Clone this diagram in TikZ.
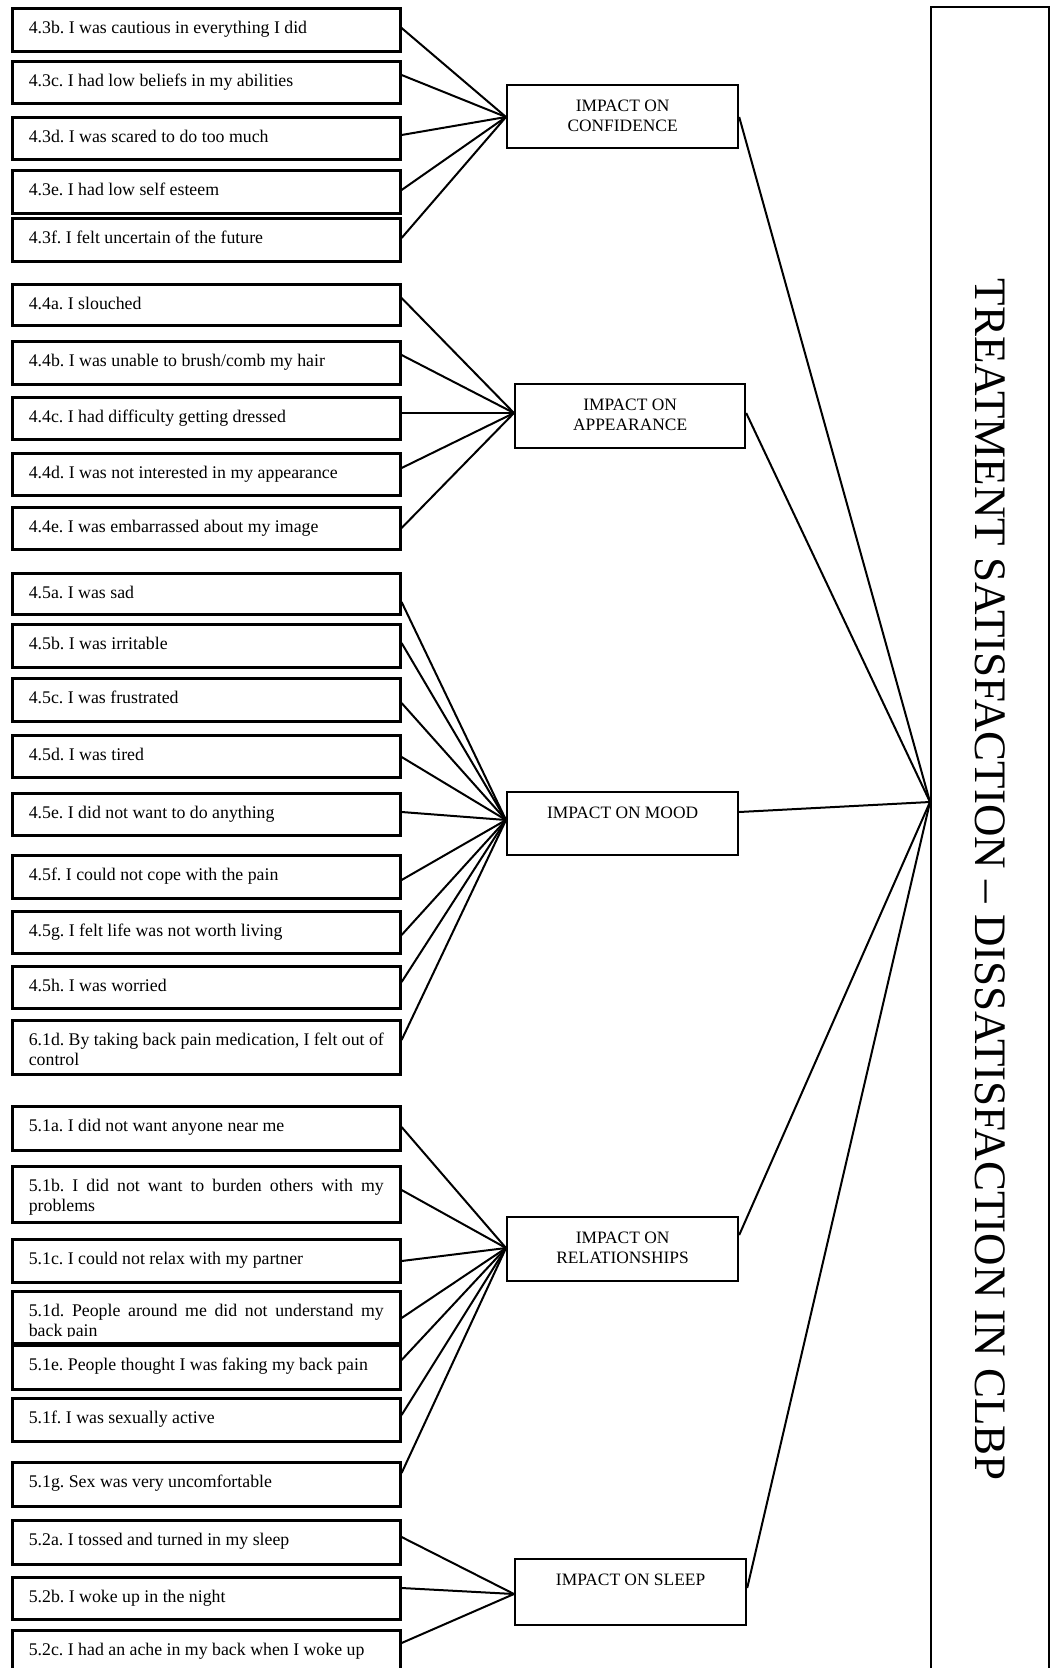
\documentclass[tikz,border=0pt]{standalone}
\usepackage{fontspec}
\setmainfont{Liberation Serif}
\hbadness=10000
\frenchspacing
\begin{document}
\begin{tikzpicture}[x=1pt,y=-1pt,
  itembox/.style={draw, line width=2.6pt, inner xsep=16.5pt, inner ysep=0pt,
    anchor=north west, fill=white, font=\fontsize{17.8pt}{20.5pt}\selectfont},
  hubbox/.style={draw, line width=2.2pt, inner sep=0pt, anchor=north west,
    font=\fontsize{17.4pt}{20pt}\selectfont},
  link/.style={line width=2pt}]
\useasboundingbox (0,0) rectangle (1050,1668);
\clip (0,0) rectangle (1050,1668);

% item box: name, top, height, text (first baseline 25pt below the top)
\newcommand\qitem[4]{\node[itembox] (#1) at (11,#2)
  {\parbox[c][#3pt][t]{355pt}{\rule{0pt}{25pt}#4}};}
% factor box: name, left, top, width, height, text
\newcommand\qhub[6]{\node[hubbox] (#1) at (#2,#3)
  {\parbox[c][#5pt][t]{#4pt}{\centering\rule{0pt}{26pt}#6}};}

% --- questionnaire items ---
\qitem{i43b}{7}{43}{4.3b. I was cautious in everything I did}
\qitem{i43c}{60}{42}{4.3c. I had low beliefs in my abilities}
\qitem{i43d}{116}{42}{4.3d. I was scared to do too much}
\qitem{i43e}{169}{43}{4.3e. I had low self esteem}
\qitem{i43f}{217}{43}{4.3f. I felt uncertain of the future}

\qitem{i44a}{283}{41}{4.4a. I slouched}
\qitem{i44b}{340}{43}{4.4b. I was unable to brush/comb my hair}
\qitem{i44c}{396}{42}{4.4c. I had difficulty getting dressed}
\qitem{i44d}{452}{42}{4.4d. I was not interested in my appearance}
\qitem{i44e}{506}{42}{4.4e. I was embarrassed about my image}

\qitem{i45a}{572}{41}{4.5a. I was sad}
\qitem{i45b}{623}{43}{4.5b. I was irritable}
\qitem{i45c}{677}{43}{4.5c. I was frustrated}
\qitem{i45d}{734}{42}{4.5d. I was tired}
\qitem{i45e}{792}{42}{4.5e. I did not want to do anything}
\qitem{i45f}{854}{43}{4.5f. I could not cope with the pain}
\qitem{i45g}{910}{42}{4.5g. I felt life was not worth living}
\qitem{i45h}{965}{42}{4.5h. I was worried}
\qitem{i61d}{1019}{54}{6.1d. By taking back pain medication, I felt out of\linebreak control}

\qitem{i51a}{1105}{44}{5.1a. I did not want anyone near me}
\qitem{i51b}{1165}{56}{5.1b. I did not want to burden others with my\linebreak problems}
\qitem{i51c}{1238}{43}{5.1c. I could not relax with my partner}
\qitem{i51d}{1290}{52}{5.1d. People around me did not understand my\linebreak back pain}
% the next box sits over the foot of 5.1d and hides the descenders of its last line
\node[fill=white, inner sep=0pt, anchor=north west, minimum width=380pt,
  minimum height=8pt] (i51d-foot) at (14,1337) {};
\qitem{i51e}{1344}{44}{5.1e. People thought I was faking my back pain}
\draw[line width=4.6pt] (i51e.north west) -- (i51e.north east);
\qitem{i51f}{1397}{43}{5.1f. I was sexually active}
\qitem{i51g}{1461}{44}{5.1g. Sex was very uncomfortable}

\qitem{i52a}{1519}{44}{5.2a. I tossed and turned in my sleep}
\qitem{i52b}{1576}{42}{5.2b. I woke up in the night}
\qitem{i52c}{1629}{43}{5.2c. I had an ache in my back when I woke up}

% --- factors ---
\qhub{conf}{506}{84}{231}{63}{IMPACT ON\\CONFIDENCE}
\qhub{app}{514}{383}{230}{64}{IMPACT ON\\APPEARANCE}
\qhub{mood}{506}{791}{231}{63}{IMPACT ON MOOD}
\qhub{rel}{506}{1216}{231}{64}{IMPACT ON\\RELATIONSHIPS}
\qhub{sleep}{514}{1558}{231}{66}{IMPACT ON SLEEP}

% --- overall construct ---
\node[draw, line width=2.2pt, inner sep=0pt, anchor=north west,
  minimum width=118pt, minimum height=1720pt] (big) at (930,6) {};
\node[rotate=-90, font=\fontsize{45pt}{50pt}\selectfont] (title) at (990,880)
  {TREATMENT SATISFACTION – DISSATISFACTION IN CLBP};

% --- connectors ---
\coordinate (conf-in) at (conf.west |- 0,117);
\coordinate (app-in) at (app.west |- 0,413);
\coordinate (mood-in) at (mood.west |- 0,820);
\coordinate (rel-in) at (rel.west |- 0,1248);
\coordinate (sleep-in) at (sleep.west |- 0,1594);
\coordinate (conv) at (big.west |- 0,802);

\foreach \n/\y in {i43b/28, i43c/75, i43d/135, i43e/190, i43f/238}
  \draw[link] (\n.east |- 0,\y) -- (conf-in);
\foreach \n/\y in {i44a/298, i44b/355, i44c/413, i44d/468, i44e/528}
  \draw[link] (\n.east |- 0,\y) -- (app-in);
\foreach \n/\y in {i45a/602, i45b/643, i45c/703, i45d/757, i45e/812,
                   i45f/880, i45g/935, i45h/982, i61d/1040}
  \draw[link] (\n.east |- 0,\y) -- (mood-in);
\foreach \n/\y in {i51a/1127, i51b/1190, i51c/1261, i51d/1318, i51e/1360,
                   i51f/1415, i51g/1473}
  \draw[link] (\n.east |- 0,\y) -- (rel-in);
\foreach \n/\y in {i52a/1537, i52b/1588, i52c/1643}
  \draw[link] (\n.east |- 0,\y) -- (sleep-in);

\draw[link] (conf.east |- 0,117) -- (conv);
\draw[link] (app.east |- 0,413) -- (conv);
\draw[link] (mood.east |- 0,812) -- (conv);
\draw[link] (rel.east |- 0,1235) -- (conv);
\draw[link] (sleep.east |- 0,1588) -- (conv);
\end{tikzpicture}
\end{document}
